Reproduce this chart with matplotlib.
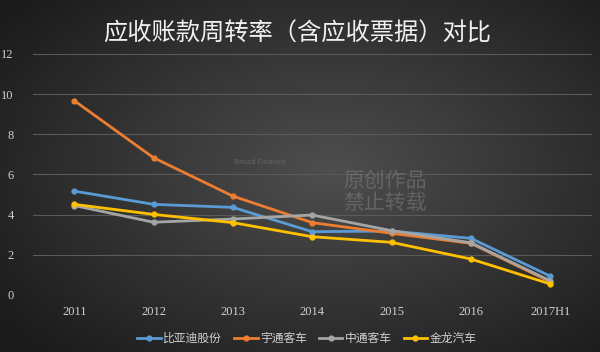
import numpy as np
import matplotlib
matplotlib.use("Agg")
import matplotlib.pyplot as plt

plt.rcParams['font.family'] = ['Noto Sans CJK SC', 'DejaVu Sans']

years = ['2011', '2012', '2013', '2014', '2015', '2016', '2017H1']
byd = [5.17, 4.51, 4.36, 3.15, 3.18, 2.82, 0.94]
yutong = [9.67, 6.83, 4.92, 3.60, 3.07, 2.57, 0.66]
zhongtong = [4.45, 3.62, 3.78, 3.98, 3.20, 2.60, 0.71]
kinglong = [4.51, 4.01, 3.60, 2.90, 2.62, 1.79, 0.55]

names = ['比亚迪股份', '宇通客车', '中通客车', '金龙汽车']
colors = ['#5b9bd5', '#ed7d31', '#a5a5a5', '#ffc000']

fig = plt.figure(figsize=(6, 3.52), dpi=100)

# dark radial background
bg = fig.add_axes([0, 0, 1, 1], zorder=-10)
yy, xx = np.mgrid[0:352, 0:600]
r = np.sqrt(((xx - 330) / 420.0) ** 2 + ((yy - 170) / 260.0) ** 2)
r = np.clip(r, 0, 1)
light = np.array([0x4e, 0x4e, 0x4e]) / 255.0
dark = np.array([0x1a, 0x1a, 0x1a]) / 255.0
img = light[None, None, :] * (1 - r[..., None]) + dark[None, None, :] * r[..., None]
bg.imshow(img, aspect='auto', extent=[0, 1, 0, 1])
bg.axis('off')

ax = fig.add_axes([0.055, 0.162, 0.932, 0.685])
ax.set_facecolor('none')
x = np.arange(len(years))
series = [byd, yutong, zhongtong, kinglong]
for vals, name, c in zip(series, names, colors):
    ax.plot(x, vals, color=c, lw=2, marker='o', ms=3.5, label=name, zorder=3)

ax.set_xlim(-0.52, 6.53)
ax.set_ylim(0, 12)
ax.set_yticks(range(0, 13, 2))
ax.set_xticks(x)
ax.set_xticklabels(years)
ax.grid(axis='y', color='#5a5a5a', lw=0.8)
for s in ax.spines.values():
    s.set_visible(False)
ax.tick_params(length=0, colors='#d0d0d0', labelsize=9, pad=8)
for lab in ax.get_xticklabels() + ax.get_yticklabels():
    lab.set_family('Liberation Serif')
ax.tick_params(axis='y', pad=14)

# watermark
fig.text(0.572, 0.455, '原创作品\n禁止转载', color='#8a8a8a', alpha=0.45,
         fontsize=15, linespacing=1.0, va='center')
fig.text(0.39, 0.535, 'Broad Finance', color='#8a8a8a', alpha=0.45, fontsize=5.5)

fig.text(0.495, 0.905, '应收账款周转率（含应收票据）对比', color='#f0f0f0',
         fontsize=17.5, ha='center', va='center', weight='medium')

leg = ax.legend(loc='upper center', bbox_to_anchor=(0.49, -0.11), ncol=4,
                frameon=False, fontsize=8.5, handlelength=2, handletextpad=0.2,
                columnspacing=1.0, labelcolor='#d0d0d0')

fig.savefig('out.png', dpi=100)
